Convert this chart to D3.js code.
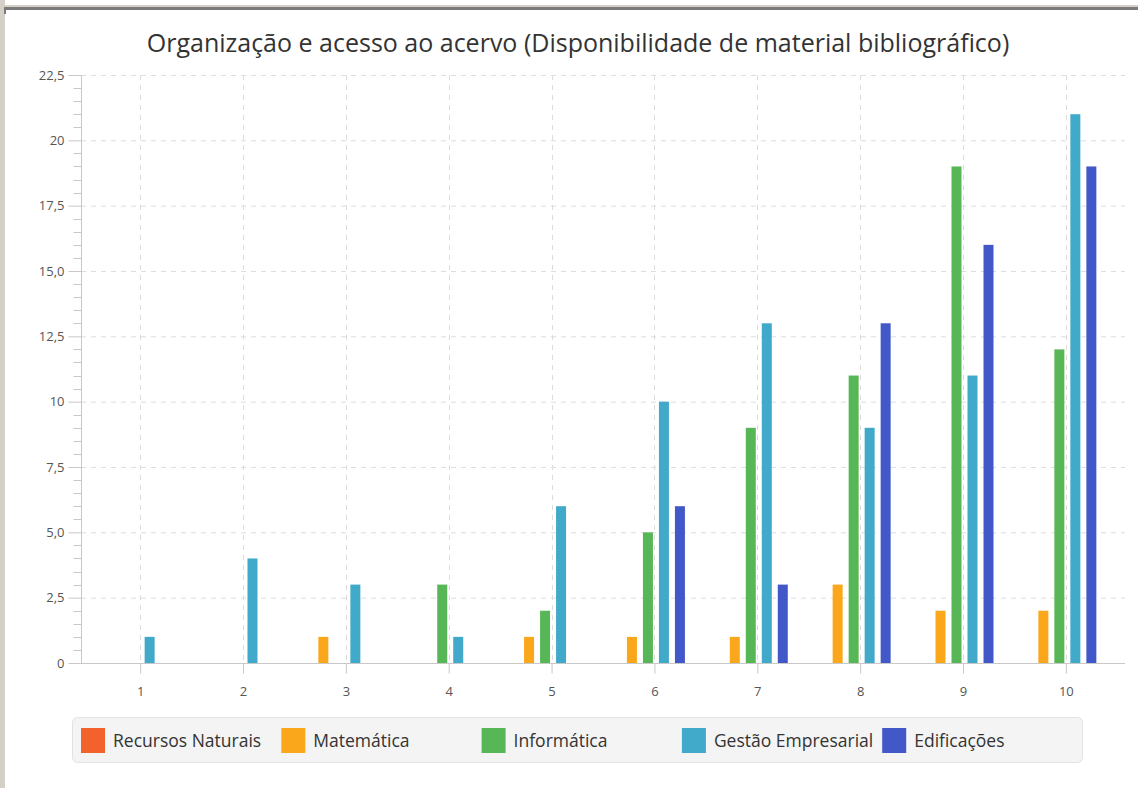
<!DOCTYPE html>
<html>
	<head>
		<title>Organização e acesso ao acervo</title>
		<meta charset="UTF-8">
		<style type="text/css">
			body { margin: 0; background: #fff; }
			svg { display: block; font-family: "Open Sans", "Noto Sans", sans-serif; }
		</style>
		<script src="https://d3js.org/d3.v7.min.js"></script>
	</head>
	<body>
		<script type="text/javascript">

			// data
			var categories = ["1", "2", "3", "4", "5", "6", "7", "8", "9", "10"];
			var seriesNames = ["Recursos Naturais", "Matemática", "Informática", "Gestão Empresarial", "Edificações"];
			var recursosNaturais = [0, 0, 0, 0, 0, 0, 0, 0, 0, 0];
			var matematica = [0, 0, 1, 0, 1, 1, 1, 3, 2, 2];
			var informatica = [0, 0, 0, 3, 2, 5, 9, 11, 19, 12];
			var gestao = [1, 4, 3, 1, 6, 10, 13, 9, 11, 21];
			var edificacoes = [0, 0, 0, 0, 0, 6, 3, 13, 16, 19];
			var yTicks = [0, 2.5, 5, 7.5, 10, 12.5, 15, 17.5, 20, 22.5];
			var yTickLabels = ["0", "2,5", "5,0", "7,5", "10", "12,5", "15,0", "17,5", "20", "22,5"];
			var colors = ["#f3622d", "#fba71b", "#57b757", "#41a9c9", "#4258c9"];

			var allSeries = [recursosNaturais, matematica, informatica, gestao, edificacoes];

			var W = 1138, H = 788;
			var plot = {left: 81, right: 1125, top: 75, bottom: 663};

			var svg = d3.select("body").append("svg")
				.attr("width", W)
				.attr("height", H);

			// window frame bits
			svg.append("rect").attr("x", 0).attr("y", 0).attr("width", 5).attr("height", H).attr("fill", "#d4d0c8");
			svg.append("rect").attr("x", 0).attr("y", 5).attr("width", W).attr("height", 2).attr("fill", "#d4d0c8");
			svg.append("rect").attr("x", 4).attr("y", 7).attr("width", W).attr("height", 3).attr("fill", "#7a7a7a");
			svg.append("rect").attr("x", 4).attr("y", 7).attr("width", 2).attr("height", 7).attr("fill", "#7a7a7a");

			// title
			svg.append("text")
				.attr("x", 578)
				.attr("y", 52)
				.attr("text-anchor", "middle")
				.attr("font-size", 25)
				.attr("fill", "#333")
				.text("Organização e acesso ao acervo (Disponibilidade de material bibliográfico)");

			var x = d3.scalePoint()
				.domain(categories)
				.range([plot.left, plot.right])
				.padding(0.575);

			// bars inside a category, relative to the tick
			var xSub = d3.scaleBand()
				.domain(seriesNames)
				.range([-43.5, 30.5])
				.paddingInner(0.375);

			var y = d3.scaleLinear()
				.domain([0, 22.5])
				.range([plot.bottom, plot.top]);

			// grid
			svg.append("g").selectAll("line")
				.data(yTicks.filter(function(d) { return d > 0; }))
				.enter().append("line")
					.attr("x1", plot.left).attr("x2", plot.right)
					.attr("y1", function(d) { return y(d) + 0.5; })
					.attr("y2", function(d) { return y(d) + 0.5; })
					.attr("stroke", "#dcdcdc")
					.attr("stroke-dasharray", "5,5");

			svg.append("g").selectAll("line")
				.data(categories)
				.enter().append("line")
					.attr("x1", function(d) { return Math.round(x(d)) + 0.5; })
					.attr("x2", function(d) { return Math.round(x(d)) + 0.5; })
					.attr("y1", plot.top).attr("y2", plot.bottom)
					.attr("stroke", "#dcdcdc")
					.attr("stroke-dasharray", "5,5");

			// bars
			var barData = [];
			allSeries.forEach(function(vals, si) {
				vals.forEach(function(v, ci) {
					barData.push({s: seriesNames[si], c: categories[ci], v: v, i: si});
				});
			});

			svg.append("g").selectAll("rect")
				.data(barData.filter(function(d) { return d.v > 0; }))
				.enter().append("rect")
					.attr("x", function(d) { return x(d.c) + xSub(d.s); })
					.attr("y", function(d) { return y(d.v); })
					.attr("width", xSub.bandwidth())
					.attr("height", function(d) { return y(0) - y(d.v); })
					.attr("fill", function(d) { return colors[d.i]; });

			// y axis
			var yAxis = d3.axisLeft(y)
				.tickValues(yTicks)
				.tickSize(13)
				.tickPadding(4)
				.tickFormat(function(d, i) { return yTickLabels[i]; });

			var gy = svg.append("g")
				.attr("transform", "translate(" + (plot.left + 0.5) + ",0)")
				.call(yAxis);

			// minor ticks every 0.5
			var minor = d3.range(0, 22.51, 0.5).filter(function(d) { return yTicks.indexOf(d) < 0; });
			gy.selectAll(".minor")
				.data(minor)
				.enter().append("line")
					.attr("class", "minor")
					.attr("x1", -8).attr("x2", 0)
					.attr("y1", function(d) { return Math.round(y(d)) + 0.5; })
					.attr("y2", function(d) { return Math.round(y(d)) + 0.5; })
					.attr("stroke", "#c8c8c8");

			// x axis
			var xAxis = d3.axisBottom(x)
				.tickSize(10)
				.tickPadding(13);

			var gx = svg.append("g")
				.attr("transform", "translate(0," + (plot.bottom + 0.5) + ")")
				.call(xAxis);

			[gx, gy].forEach(function(g) {
				g.select(".domain").attr("stroke", "#c8c8c8");
				g.selectAll(".tick line").attr("stroke", "#c8c8c8");
				g.selectAll(".tick text")
					.attr("fill", "#555")
					.attr("font-size", 13)
					.attr("font-family", "\"Open Sans\", sans-serif");
			});
			gx.select(".domain").attr("d", "M" + plot.left + ",0H" + plot.right);
			gy.select(".domain").attr("d", "M0," + plot.top + "V" + plot.bottom);

			// legend
			var legend = svg.append("g");
			legend.append("rect")
				.attr("x", 72.5).attr("y", 717.5)
				.attr("width", 1010).attr("height", 45)
				.attr("rx", 5)
				.attr("fill", "#f4f4f4")
				.attr("stroke", "#e2e2e2");

			var items = legend.selectAll("g.item")
				.data(seriesNames)
				.enter().append("g")
					.attr("class", "item")
					.attr("transform", function(d, i) { return "translate(" + (81 + i * 200.3) + ",728)"; });

			items.append("rect")
				.attr("width", 24).attr("height", 25)
				.attr("fill", function(d, i) { return colors[i]; });

			items.append("text")
				.attr("x", 32).attr("y", 18.5)
				.attr("font-size", 17.5)
				.attr("fill", "#333")
				.text(function(d) { return d; });

		</script>
	</body>
</html>
